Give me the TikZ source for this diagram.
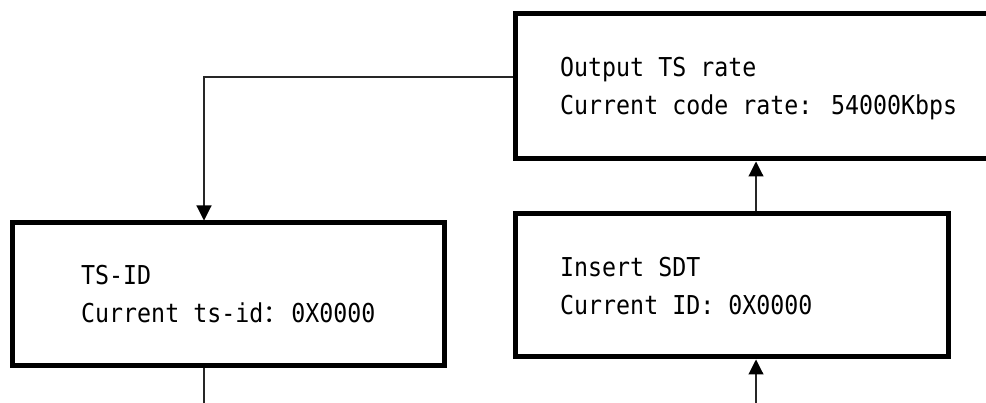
\documentclass[tikz,border=0pt]{standalone}
\usepackage{fontspec}
\newfontfamily\diagfont[FakeStretch=0.895]{DejaVu Sans Mono}
\newfontfamily\cjkfont{Noto Sans CJK SC}
\usetikzlibrary{arrows.meta}
\tikzset{
  boxnode/.style={draw=black, line width=5pt, rectangle, inner sep=0pt, fill=none},
  txt/.style={anchor=base west, inner sep=0pt, font=\diagfont\fontsize{26}{30}\selectfont, text=black},
  conn/.style={draw=black!85, line width=1.1pt},
  arr/.style={conn, -{Triangle[width=15pt,length=15pt,color=black]}},
}
\begin{document}
\begin{tikzpicture}[x=1pt, y=-1pt]
  \useasboundingbox (0,0) rectangle (986,403);
  \clip (0,0) rectangle (986,403);
  \fill[white] (0,0) rectangle (986,403);

  % boxes
  \node[boxnode, minimum width=495pt, minimum height=145pt] (out) at (762.5,86.5) {};
  \node[boxnode, minimum width=432pt, minimum height=143pt] (ts) at (228,294.5) {};
  \node[boxnode, minimum width=433pt, minimum height=143pt] (ins) at (731.5,285.5) {};

  % texts
  \node[txt] (out1) at (560,77) {Output TS rate};
  \node[txt] (out2) at (560,115) {Current code rate: 54000Kbps};
  \node[txt] (ts1) at (81,285) {TS-ID};
  \node[txt] (ts2) at (81,323) {Current ts-id\makebox[28pt][l]{\cjkfont\fontsize{24.7}{30}\selectfont ：}0X0000};
  \node[txt] (ins1) at (560,277) {Insert SDT};
  \node[txt] (ins2) at (560,315) {Current ID: 0X0000};

  % connectors
  \coordinate (b1) at (756,403);
  \coordinate (b2) at (204,403);
  \draw[arr] (out.west |- 0,77) -| (204,0 |- ts.north);
  \draw[arr] (ins.north -| b1) -- (out.south -| b1);
  \draw[arr] (b1) -- (ins.south -| b1);
  \draw[conn] (ts.south -| b2) -- (b2);
\end{tikzpicture}
\end{document}
